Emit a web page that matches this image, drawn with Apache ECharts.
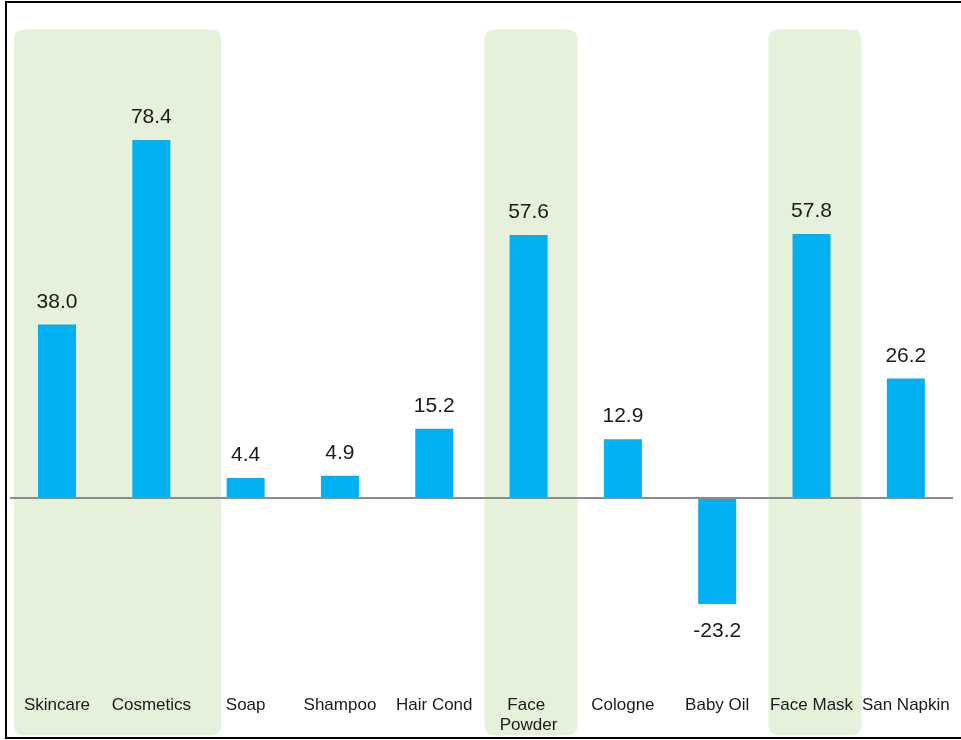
<!DOCTYPE html>
<html>
<head>
<meta charset="utf-8">
<script src="https://cdn.jsdelivr.net/npm/echarts@6/dist/echarts.min.js"></script>
<style>
  html, body { margin: 0; padding: 0; background: #ffffff; }
  #chart { width: 961px; height: 740px; }
</style>
</head>
<body>
<div id="chart"></div>
<script>
// Product categories and their growth values (%)
const categories = ['Skincare', 'Cosmetics', 'Soap', 'Shampoo', 'Hair Cond',
                    'Face Powder', 'Cologne', 'Baby Oil', 'Face Mask', 'San Napkin'];
const values = [38.0, 78.4, 4.4, 4.9, 15.2, 57.6, 12.9, -23.2, 57.8, 26.2];

// Categories grouped under a shaded background panel
const highlightGroups = [['Skincare', 'Cosmetics'], ['Face Powder'], ['Face Mask']];

// Panel extents around the group (pixels beyond the first/last bar centre)
const panelPadLeft = [43, 44, 43];
const panelPadRight = [70, 49, 50];

const BAR_COLOR = '#00B0F0';
const PANEL_COLOR = '#E5F1DA';
const TEXT_COLOR = '#1a1a1a';
const FONT = '"Liberation Sans", Arial, sans-serif';

const panelData = highlightGroups.map((g, i) => [
  categories.indexOf(g[0]),
  categories.indexOf(g[g.length - 1]),
  0,
  i
]);

const chart = echarts.init(document.getElementById('chart'), null, { renderer: 'canvas' });

chart.setOption({
  animation: false,
  backgroundColor: '#ffffff',
  grid: { left: 9.85, right: 8, top: 41.4, bottom: 45.6, containLabel: false },
  xAxis: {
    type: 'category',
    data: categories,
    position: 'bottom',
    axisLine: { show: false, onZero: false },
    axisTick: { show: false },
    splitLine: { show: false },
    axisLabel: {
      interval: 0,
      margin: 1,
      color: TEXT_COLOR,
      fontFamily: FONT,
      fontSize: 17,
      lineHeight: 20,
      width: 94,
      overflow: 'break',
      verticalAlign: 'top'
    }
  },
  yAxis: {
    type: 'value',
    min: -43,
    max: 100,
    show: false,
    splitLine: { show: false }
  },
  graphic: [{
    type: 'rect',
    silent: true,
    z: 100,
    shape: { x: 6, y: 2, width: 1000, height: 736 },
    style: { fill: 'none', stroke: '#000000', lineWidth: 2 }
  }],
  series: [
    {
      type: 'custom',
      silent: true,
      z: 0,
      clip: false,
      data: panelData,
      encode: { x: [0, 1], y: 2 },
      renderItem: function (params, api) {
        const i = api.value(3);
        const x0 = api.coord([api.value(0), 0])[0] - panelPadLeft[i];
        const x1 = api.coord([api.value(1), 0])[0] + panelPadRight[i];
        const top = params.coordSys.y - 12;
        const bottom = params.coordSys.y + params.coordSys.height + 41;
        return {
          type: 'rect',
          shape: { x: x0, y: top, width: x1 - x0, height: bottom - top, r: 9 },
          style: { fill: PANEL_COLOR }
        };
      }
    },
    {
      type: 'bar',
      z: 2,
      barWidth: 38,
      data: values.map(v => ({
        value: v,
        label: v < 0 ? { position: 'bottom', distance: 17 } : { position: 'top', distance: 12 }
      })),
      itemStyle: { color: BAR_COLOR },
      label: {
        show: true,
        color: TEXT_COLOR,
        fontFamily: FONT,
        fontSize: 21,
        formatter: p => p.value.toFixed(1)
      },
      markLine: {
        silent: true,
        symbol: ['none', 'none'],
        label: { show: false },
        lineStyle: { color: '#8C8C8C', width: 2, type: 'solid' },
        data: [{ yAxis: 0 }]
      }
    }
  ]
});
</script>
</body>
</html>
